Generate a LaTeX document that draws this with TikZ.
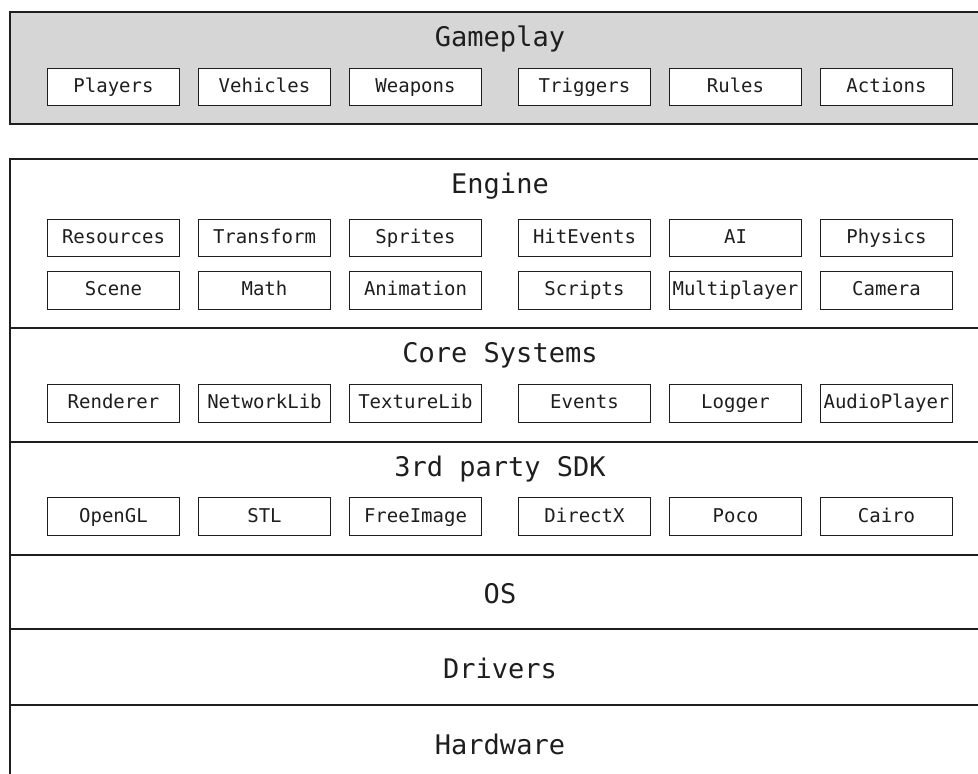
\documentclass[tikz,border=0pt]{standalone}
\usepackage{fontspec}
\newfontfamily\monofnt{DejaVu Sans Mono}
\definecolor{gpfill}{RGB}{214,214,214}
\definecolor{ink}{RGB}{30,30,30}
\tikzset{
  layer/.style={draw=ink, line width=2pt},
  title/.style={anchor=base, inner sep=0pt, text=ink, font=\monofnt\fontsize{27}{32}\selectfont},
  comp/.style={draw=ink, line width=1.1pt, fill=white, minimum width=132.4pt, minimum height=37.6pt,
    inner sep=0pt, text height=13.9pt, text depth=3pt, text=ink, font=\monofnt\fontsize{19}{22}\selectfont}
}
\begin{document}
\begin{tikzpicture}[x=1pt,y=-1pt]
\useasboundingbox (0,0) rectangle (978,774);
% layers
\draw[layer, fill=gpfill] (10,12) rectangle (990,124);
\node[title] (tGameplay) at (500,46.7) {Gameplay};
\draw[layer] (10,159) rectangle (990,328.3);
\node[title] (tEngine) at (500,193.5) {Engine};
\draw[layer] (10,328.3) rectangle (990,441.7);
\node[title] (tCore) at (500,362) {Core Systems};
\draw[layer] (10,441.7) rectangle (990,554.7);
\node[title] (tSDK) at (500,476) {3rd party SDK};
\draw[layer] (10,554.7) rectangle (990,629.3);
\node[title] (tOS) at (500,603.5) {OS};
\draw[layer] (10,629.3) rectangle (990,704.7);
\node[title] (tDrivers) at (500,678.5) {Drivers};
\draw[layer] (10,704.7) rectangle (990,800);
\node[title] (tHardware) at (500,754) {Hardware};
% components
\foreach \n/\x in {Players/113.5,Vehicles/264.5,Weapons/415.5,Triggers/584.5,Rules/735.5,Actions/886.5}
  \node[comp] (gp-\n) at (\x,87) {\n};
\foreach \n/\x in {Resources/113.5,Transform/264.5,Sprites/415.5,HitEvents/584.5,AI/735.5,Physics/886.5}
  \node[comp] (en-\n) at (\x,238) {\n};
\foreach \n/\x in {Scene/113.5,Math/264.5,Animation/415.5,Scripts/584.5,Multiplayer/735.5,Camera/886.5}
  \node[comp] (en-\n) at (\x,290.5) {\n};
\foreach \n/\x in {Renderer/113.5,NetworkLib/264.5,TextureLib/415.5,Events/584.5,Logger/735.5,AudioPlayer/886.5}
  \node[comp] (cs-\n) at (\x,403.5) {\n};
\foreach \n/\x in {OpenGL/113.5,STL/264.5,FreeImage/415.5,DirectX/584.5,Poco/735.5,Cairo/886.5}
  \node[comp] (sdk-\n) at (\x,516.7) {\n};
\end{tikzpicture}
\end{document}
